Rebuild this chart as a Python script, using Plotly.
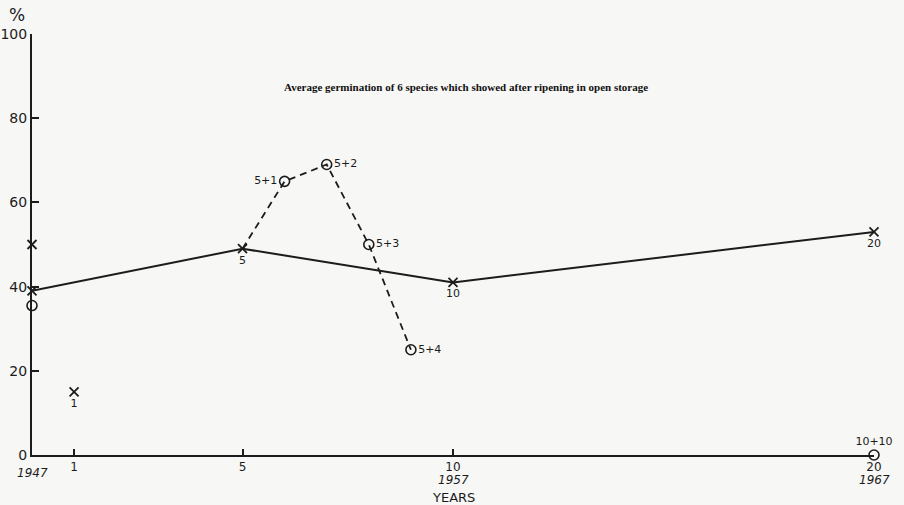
import plotly.graph_objects as go

# Years in storage and average germination (%)
main_years = [0, 5, 10, 20]
main_germ = [39, 49, 41, 53]
main_labels = ["", "5", "10", "20"]

after_years = [5, 6, 7, 8, 9]
after_germ = [49, 65, 69, 50, 25]
after_labels = ["", "5+1", "5+2", "5+3", "5+4"]
after_pos = ["middle left", "middle left", "middle right", "middle right", "middle right"]

extra_x_years = [0, 1]
extra_x_germ = [50, 15]
extra_x_labels = ["", "1"]

extra_o_years = [0, 20]
extra_o_germ = [35.5, 0]
extra_o_labels = ["", "10+10"]

x_tickvals = [0, 1, 5, 10, 20]
x_ticktext = ["", "1", "5", "10", "20"]
calendar_at = [0, 10, 20]
calendar_years = ["1947", "1957", "1967"]
y_tickvals = [0, 20, 40, 60, 80, 100]

INK = "#1c1c1c"
LBL = dict(family="DejaVu Sans", size=11, color=INK)
XMARK = dict(symbol="x-thin-open", size=9, color=INK, line=dict(color=INK, width=1.8))
OMARK = dict(symbol="circle-open", size=10, color=INK, line=dict(color=INK, width=1.6))

fig = go.Figure()

fig.add_trace(go.Scatter(
    x=main_years, y=main_germ, mode="lines+markers+text",
    line=dict(color=INK, width=2), marker=XMARK,
    text=main_labels, textposition="bottom center", textfont=LBL,
    cliponaxis=False, showlegend=False,
))

fig.add_trace(go.Scatter(
    x=after_years, y=after_germ, mode="lines",
    line=dict(color=INK, width=1.8, dash="7px,5px"),
    cliponaxis=False, showlegend=False,
))
fig.add_trace(go.Scatter(
    x=after_years[1:], y=after_germ[1:], mode="markers+text",
    marker=OMARK,
    text=after_labels[1:], textposition=after_pos[1:], textfont=LBL,
    cliponaxis=False, showlegend=False,
))

fig.add_trace(go.Scatter(
    x=extra_x_years, y=extra_x_germ, mode="markers+text",
    marker=XMARK,
    text=extra_x_labels, textposition="bottom center", textfont=LBL,
    cliponaxis=False, showlegend=False,
))

fig.add_trace(go.Scatter(
    x=extra_o_years, y=extra_o_germ, mode="markers+text",
    marker=OMARK,
    text=extra_o_labels, textposition="top center", textfont=LBL,
    cliponaxis=False, showlegend=False,
))

annotations = [
    dict(text="<b>Average germination of 6 species which showed after ripening in open storage</b>",
         xref="paper", yref="paper", x=0.516, y=0.875, showarrow=False,
         xanchor="center", yanchor="middle",
         font=dict(family="Liberation Serif", size=11, color="#111")),
    dict(text="%", xref="paper", yref="paper", x=-0.018, y=1.045,
         showarrow=False, xanchor="center", yanchor="middle",
         font=dict(family="DejaVu Sans", size=17, color=INK)),
    dict(text="YEARS", xref="paper", yref="paper", x=0.5, y=-0.101,
         showarrow=False, xanchor="center", yanchor="middle",
         font=dict(family="DejaVu Sans", size=13, color=INK)),
]
for xv, yr in zip(calendar_at, calendar_years):
    annotations.append(dict(
        text=f"<i>{yr}</i>", xref="x", yref="paper", x=xv,
        y=-0.043 if xv == 0 else -0.059, showarrow=False,
        xanchor="center", yanchor="middle",
        font=dict(family="DejaVu Sans", size=12, color=INK)))

fig.update_layout(
    width=904, height=505,
    margin=dict(l=32, r=30, t=34, b=50),
    paper_bgcolor="#f7f7f5", plot_bgcolor="#f7f7f5",
    font=dict(family="DejaVu Sans", color=INK),
    xaxis=dict(
        range=[0, 20], showgrid=False, zeroline=False, automargin=False,
        showline=True, linecolor=INK, linewidth=2,
        ticks="inside", ticklen=6, tickwidth=1.5, tickcolor=INK,
        tickvals=x_tickvals, ticktext=x_ticktext,
        tickfont=dict(family="DejaVu Sans", size=12, color=INK),
    ),
    yaxis=dict(
        range=[0, 100], showgrid=False, zeroline=False, automargin=False,
        showline=True, linecolor=INK, linewidth=2,
        ticks="inside", ticklen=7, tickwidth=1.8, tickcolor=INK,
        tickvals=y_tickvals,
        tickfont=dict(family="DejaVu Sans", size=14, color=INK),
    ),
    annotations=annotations,
)

fig.write_html("out.html")
